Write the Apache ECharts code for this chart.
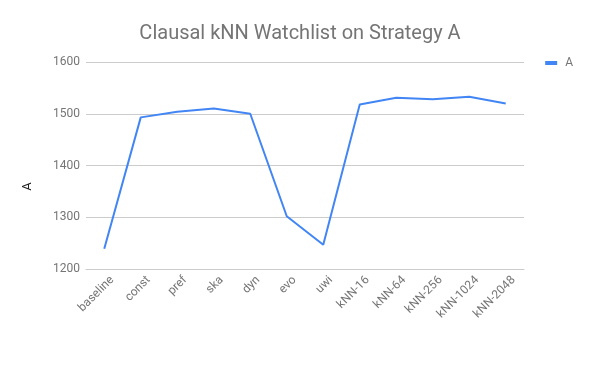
<!DOCTYPE html>
<html><head><meta charset="utf-8">
<script src="https://cdn.jsdelivr.net/npm/echarts@6/dist/echarts.min.js"></script>
<style>html,body{margin:0;padding:0;background:#fff}#c{width:600px;height:371px}</style>
</head><body><div id="c"></div>
<script>
const categories = ['baseline','const','pref','ska','dyn','evo','uwi','kNN-16','kNN-64','kNN-256','kNN-1024','kNN-2048'];
const valuesA = [1239, 1493, 1504, 1510, 1500, 1302, 1247, 1518, 1531, 1528, 1533, 1520];
const yTicks = [1200, 1300, 1400, 1500, 1600];

const chart = echarts.init(document.getElementById('c'));
chart.setOption({
  animation: false,
  textStyle: { fontFamily: 'Roboto' },
  title: {
    text: 'Clausal kNN Watchlist on Strategy A',
    left: 'center', top: 19,
    textStyle: { fontFamily: 'Roboto', fontSize: 20, fontWeight: 'normal', color: '#757575' }
  },
  legend: {
    right: 22, top: 52,
    icon: 'rect', itemWidth: 12, itemHeight: 4, itemGap: 8,
    textStyle: { fontFamily: 'Roboto', fontSize: 12, color: '#757575', padding: [0, 0, 0, 3] },
    data: ['A']
  },
  grid: { left: 86, right: 76, top: 62, bottom: 102 },
  xAxis: {
    type: 'category', data: categories, boundaryGap: true,
    axisLine: { show: true, lineStyle: { color: '#cccccc' } },
    axisTick: { show: false },
    axisLabel: { rotate: 45, fontFamily: 'Roboto', fontSize: 12, color: '#757575', margin: 17, interval: 0,
                 padding: [0, -11, 0, 0] }
  },
  yAxis: {
    type: 'value', min: yTicks[0], max: yTicks[yTicks.length - 1], interval: 100,
    name: 'A', nameLocation: 'middle', nameGap: 52, nameRotate: 90,
    nameTextStyle: { fontFamily: 'Roboto', fontSize: 13, color: '#222', padding: [0, 42, 0, 0] },
    axisLine: { show: false }, axisTick: { show: false },
    axisLabel: { fontFamily: 'Roboto', fontSize: 12, color: '#757575', margin: 6,
                 formatter: function (v) { return String(v); } },
    splitLine: { lineStyle: { color: '#cccccc', width: 1 } }
  },
  series: [{
    name: 'A', type: 'line', data: valuesA,
    showSymbol: false, symbol: 'none',
    lineStyle: { color: '#4285F4', width: 2 },
    itemStyle: { color: '#4285F4' }
  }]
});
</script></body></html>
